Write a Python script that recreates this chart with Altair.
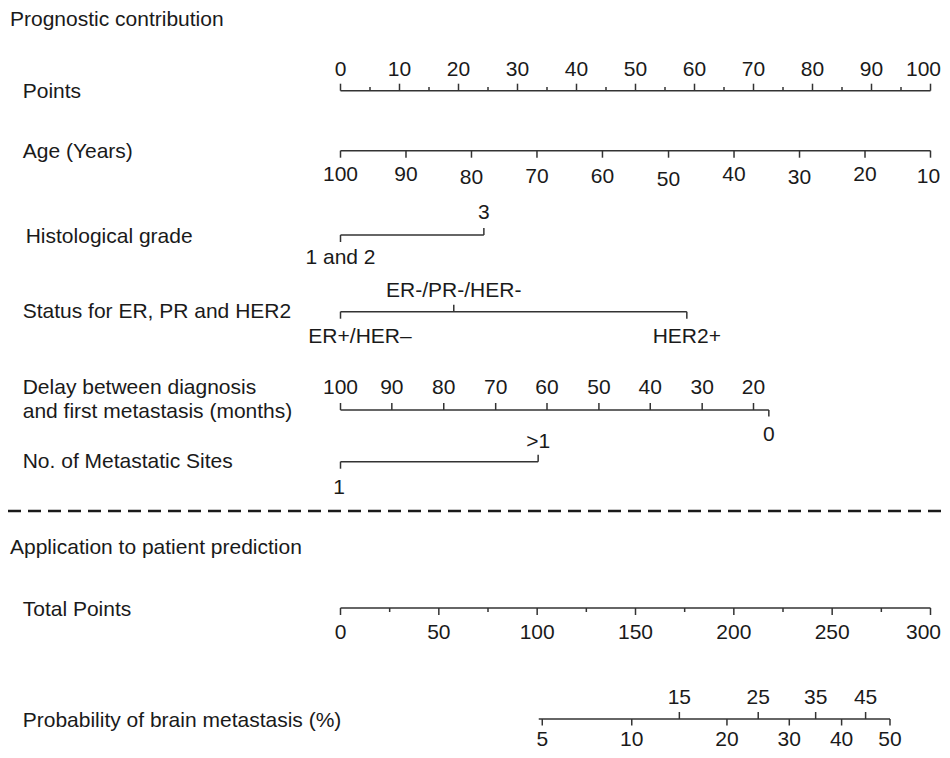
import altair as alt
import pandas as pd

# ---------------- data ----------------
section_titles = ["Prognostic contribution", "Application to patient prediction"]
row_names = ["Points", "Age (Years)", "Histological grade", "Status for ER, PR and HER2",
             "Delay between diagnosis", "and first metastasis (months)",
             "No. of Metastatic Sites", "Total Points", "Probability of brain metastasis (%)"]

points_major = [0, 10, 20, 30, 40, 50, 60, 70, 80, 90, 100]
points_minor = [5, 15, 25, 35, 45, 55, 65, 75, 85, 95]

age_values = [100, 90, 80, 70, 60, 50, 40, 30, 20, 10]
age_points = [0, 11.1, 22.2, 33.3, 44.4, 55.6, 66.7, 77.8, 88.9, 100]

grade_labels = ["1 and 2", "3"]
grade_points = [0, 24.3]

status_labels = ["ER+/HER–", "ER-/PR-/HER-", "HER2+"]
status_points = [0, 19.2, 58.7]

delay_values = [100, 90, 80, 70, 60, 50, 40, 30, 20, 0]
delay_points = [0, 8.7, 17.5, 26.3, 35.0, 43.8, 52.5, 61.3, 70.0, 72.6]

sites_labels = ["1", ">1"]
sites_points = [0, 33.5]

total_major = [0, 50, 100, 150, 200, 250, 300]
total_minor = [25, 75, 125, 175, 225, 275]

prob_values = [5, 10, 15, 20, 25, 30, 35, 40, 45, 50]
prob_total_points = [102.6, 148.1, 172.3, 196.5, 212.4, 228.2, 241.6, 254.8, 267.0, 279.4]
prob_upper = [15, 25, 35, 45]
prob_line_start_total = 100.8

# ---------------- layout / style ----------------
W, H = 934, 742
FONT = "Liberation Sans"
FS = 21
TXT = "#1a1a1a"
LINE = "#333333"
SW = 1.5
MAJ = 7
MINOR = 3.6
ASC = 7.5  # half cap height: glyph centre -> alphabetic baseline

xscale = alt.Scale(domain=[0, 100], range=[332.5, 922.5])


def Y(page_y):
    return page_y - 8


def hline(p0, p1, y):
    df = pd.DataFrame({"a": [p0], "b": [p1]})
    return alt.Chart(df).mark_rule(color=LINE, strokeWidth=SW).encode(
        x=alt.X("a:Q", scale=xscale, axis=None), x2="b:Q", y=alt.value(Y(y)))


def ticks(pts, y, length):
    df = pd.DataFrame({"p": pts})
    return alt.Chart(df).mark_rule(color=LINE, strokeWidth=SW).encode(
        x=alt.X("p:Q", scale=xscale, axis=None),
        y=alt.value(Y(y)), y2=alt.value(Y(y + length)))


def labels(pts, texts, y, dys=None, dx=0, last_dx=0):
    """Centred labels; last_dx nudges the right-most label so it stays on the page."""
    df = pd.DataFrame({"p": pts, "t": [str(t) for t in texts]})
    df["yy"] = [Y(y) + ASC + (dys[i] if dys else 0) for i in range(len(pts))]
    enc = dict(x=alt.X("p:Q", scale=xscale, axis=None),
               y=alt.Y("yy:Q", scale=None, axis=None), text="t:N")
    mk = lambda d, ddx: alt.Chart(d).mark_text(font=FONT, fontSize=FS, color=TXT, align="center",
                                               baseline="alphabetic", dx=ddx).encode(**enc)
    if not last_dx:
        return mk(df, dx)
    n = len(pts)
    return alt.layer(mk(df.iloc[:n - 1], dx), mk(df.iloc[n - 1:], last_dx))


def left_text(text, x, y):
    df = pd.DataFrame({"t": [text]})
    return alt.Chart(df).mark_text(font=FONT, fontSize=FS, color=TXT, align="left",
                                   baseline="alphabetic").encode(
        x=alt.value(x - 8), y=alt.value(Y(y) + ASC), text="t:N")


layers = []

# titles and row names
layers.append(left_text(section_titles[0], 10, 18.3))
layers.append(left_text(section_titles[1], 10, 546))
PROB_Y = 719
row_pos = [(22.7, 90.7), (22.7, 150.7), (25.7, 235), (22.7, 310.7), (22.7, 386.7),
           (22.7, 410), (22.7, 460), (22.7, 608), (22.7, PROB_Y)]
for name, (x, y) in zip(row_names, row_pos):
    layers.append(left_text(name, x, y))

# Points
layers += [hline(0, 100, 90.7), ticks(points_major, 90.7, -MAJ), ticks(points_minor, 90.7, -MINOR),
           labels(points_major, points_major, 68.3, last_dx=-7)]

# Age
age_dy = [0, -0.5, 3, 2, 2, 5, -0.5, 3, -0.5, 2]
layers += [hline(0, 100, 150.7), ticks(age_points, 150.7, MAJ),
           labels(age_points, age_values, 173.5, dys=age_dy, last_dx=-2)]

# Histological grade
layers += [hline(grade_points[0], grade_points[1], 235),
           ticks([grade_points[0]], 235, MAJ), ticks([grade_points[1]], 235, -MAJ),
           labels([grade_points[1]], [grade_labels[1]], 211.7),
           labels([grade_points[0]], [grade_labels[0]], 256.7)]

# Status
layers += [hline(status_points[0], status_points[2], 311.7),
           ticks([status_points[0], status_points[2]], 311.7, MAJ),
           ticks([status_points[1]], 311.7, -MAJ),
           labels([status_points[1]], [status_labels[1]], 289.3),
           labels([status_points[0]], [status_labels[0]], 335, dx=19.5),
           labels([status_points[2]], [status_labels[2]], 335)]

# Delay
layers += [hline(min(delay_points), max(delay_points), 410),
           ticks(delay_points[:-1], 410, -MAJ), ticks(delay_points[-1:], 410, 6.5),
           labels(delay_points[:-1], delay_values[:-1], 386.7),
           labels(delay_points[-1:], delay_values[-1:], 433.3)]

# Metastatic sites
layers += [hline(sites_points[0], sites_points[1], 461.7),
           ticks([sites_points[0]], 461.7, MAJ), ticks([sites_points[1]], 461.7, -MAJ),
           labels([sites_points[1]], [sites_labels[1]], 440),
           labels([sites_points[0]], [sites_labels[0]], 486, dx=-1.5)]

# separator
sep = pd.DataFrame({"k": [0]})
layers.append(alt.Chart(sep).mark_rule(color="#1a1a1a", strokeWidth=2.6, strokeDash=[13, 7]).encode(
    x=alt.value(0), x2=alt.value(W), y=alt.value(Y(511))))

# Total points (0-300 mapped on the same 0-100 point width)
tp = lambda v: v / 3.0
layers += [hline(0, 100, 608), ticks([tp(v) for v in total_major], 608, MAJ),
           ticks([tp(v) for v in total_minor], 608, 4),
           labels([tp(v) for v in total_major], total_major, 631.7, last_dx=-7)]

# Probability
prob_pts = [tp(v) for v in prob_total_points]
up_idx = [prob_values.index(v) for v in prob_upper]
lo_idx = [i for i in range(len(prob_values)) if i not in up_idx]
layers += [hline(tp(prob_line_start_total), prob_pts[-1], PROB_Y),
           ticks([prob_pts[i] for i in up_idx], PROB_Y, -MAJ),
           ticks([prob_pts[i] for i in lo_idx], PROB_Y, 6.5),
           labels([prob_pts[i] for i in up_idx], [prob_values[i] for i in up_idx], PROB_Y - 22.3),
           labels([prob_pts[i] for i in lo_idx], [prob_values[i] for i in lo_idx], 738.5)]

chart = alt.layer(*layers).properties(
    width=W, height=H, autosize=alt.AutoSizeParams(type="none"), padding=0,
    background="white"
).configure_view(stroke=None)

chart.save("out.html", embed_options={"renderer": "svg", "actions": False})
